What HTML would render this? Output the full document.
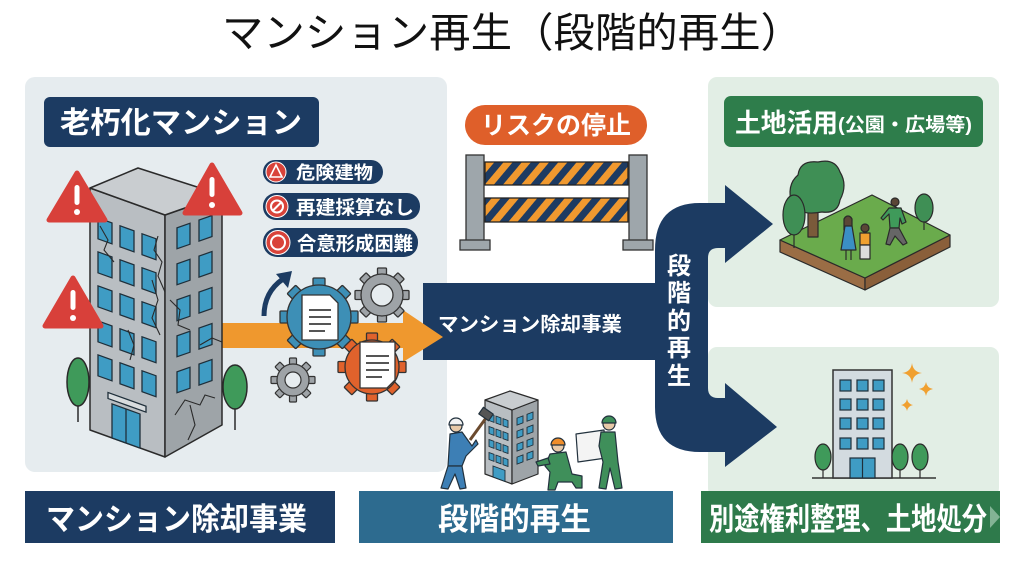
<!DOCTYPE html>
<html><head><meta charset="utf-8"><style>
html,body{margin:0;padding:0;background:#fff;}
svg{display:block;}
text{font-family:"Liberation Sans","Noto Sans CJK JP",sans-serif;}
</style></head><body>
<svg width="1024" height="576" viewBox="0 0 1024 576" xmlns="http://www.w3.org/2000/svg">
<defs>
<pattern id="st" width="14" height="14" patternUnits="userSpaceOnUse" patternTransform="rotate(40)">
<rect width="14" height="14" fill="#1d3b62"/><rect width="7" height="14" fill="#f0992f"/>
</pattern>
</defs>
<rect width="1024" height="576" fill="#ffffff"/>
<!-- Title -->
<text x="512" y="47" font-size="41" text-anchor="middle" fill="#111" textLength="580" lengthAdjust="spacingAndGlyphs">マンション再生（段階的再生）</text>

<!-- Panels -->
<rect x="25" y="77" width="422" height="395" rx="10" fill="#e6ecef"/>
<rect x="708" y="77" width="291" height="230" rx="9" fill="#e2eee5"/>
<rect x="708" y="347" width="291" height="150" rx="9" fill="#e2eee5"/>

<!-- 老朽化マンション label -->
<rect x="44" y="97" width="275" height="50" rx="6" fill="#1c3b62"/>
<text x="60" y="133" font-size="30" font-weight="700" fill="#fff" textLength="242" lengthAdjust="spacingAndGlyphs">老朽化マンション</text>

<!-- Tags -->
<rect x="263" y="160" width="120" height="24" rx="12" fill="#1c3b62"/>
<circle cx="276" cy="172" r="10" fill="#d9433a" stroke="#fff" stroke-width="1"/>
<path d="M276 165 L282 177 L270 177 Z" fill="none" stroke="#fff" stroke-width="1.6"/>
<text x="296" y="179" font-size="18" font-weight="700" fill="#fff" textLength="77" lengthAdjust="spacingAndGlyphs">危険建物</text>

<rect x="263" y="193" width="157" height="27" rx="13" fill="#1c3b62"/>
<circle cx="277" cy="206.5" r="11" fill="#d9433a" stroke="#fff" stroke-width="1"/>
<circle cx="277" cy="206.5" r="6" fill="none" stroke="#fff" stroke-width="2"/>
<line x1="272.5" y1="211" x2="281.5" y2="202" stroke="#fff" stroke-width="2"/>
<text x="296" y="214" font-size="19" font-weight="700" fill="#fff" textLength="118" lengthAdjust="spacingAndGlyphs">再建採算なし</text>

<rect x="263" y="228" width="155" height="29" rx="14" fill="#1c3b62"/>
<circle cx="278" cy="242.5" r="12" fill="#d9433a" stroke="#fff" stroke-width="1"/>
<circle cx="278" cy="242.5" r="7" fill="none" stroke="#fff" stroke-width="2"/>
<text x="297" y="250" font-size="19" font-weight="700" fill="#fff" textLength="116" lengthAdjust="spacingAndGlyphs">合意形成困難</text>

<!-- Navy main band + branching arrow -->
<rect x="423" y="283" width="240" height="77" fill="#1c3b62"/>
<path d="M655 250 Q655 203 700 203 L725 203 L725 185 L773 224 L725 263 L725 248 L718 248 Q708 248 708 258 L708 388 Q708 398 718 398 L725 398 L725 383 L777 427 L725 467 L725 452 L700 452 Q655 452 655 407 Z" fill="#1c3b62"/>
<text x="438" y="331" font-size="20" font-weight="700" fill="#fff" textLength="184" lengthAdjust="spacingAndGlyphs">マンション除却事業</text>
<g font-size="24" font-weight="700" fill="#fff" text-anchor="middle">
<text x="679" y="274">段</text>
<text x="679" y="301">階</text>
<text x="679" y="329">的</text>
<text x="679" y="356">再</text>
<text x="679" y="384">生</text>
</g>

<!-- Orange arrow -->
<polygon points="215,323 403,323 403,310 443,337 403,362 403,348 215,348" fill="#ef982e"/>

<!-- Big building -->
<g stroke="#2a2a2a" stroke-width="1.5" stroke-linejoin="round">
<polygon points="90,188 165,215 165,457 90,430" fill="#b9bec2"/>
<polygon points="165,215 222,195 222,425 165,457" fill="#9ea4a8"/>
<polygon points="138,168 222,195 165,215 90,188" fill="#c9cdd0"/>
</g>
<g transform="matrix(1,0.36,0,1,90,188)" fill="#3f9cc4" stroke="#1f2f3a" stroke-width="1.3">
<rect x="8" y="27" width="14" height="21"/><rect x="30" y="27" width="14" height="21"/><rect x="52" y="27" width="14" height="21"/>
<rect x="8" y="61" width="14" height="21"/><rect x="30" y="61" width="14" height="21"/><rect x="52" y="61" width="14" height="21"/>
<rect x="8" y="95" width="14" height="21"/><rect x="30" y="95" width="14" height="21"/><rect x="52" y="95" width="14" height="21"/>
<rect x="8" y="130" width="14" height="21"/><rect x="30" y="130" width="14" height="21"/><rect x="52" y="130" width="14" height="21"/>
<rect x="8" y="164" width="14" height="21"/><rect x="30" y="164" width="14" height="21"/><rect x="52" y="164" width="14" height="21"/>
<rect x="22" y="208" width="28" height="34"/>
<line x1="36" y1="208" x2="36" y2="242"/>
<rect x="18" y="198" width="38" height="6" fill="#d8dcde"/>
</g>
<g transform="matrix(1,-0.35,0,1,165,215)" fill="#3f9cc4" stroke="#1f2f3a" stroke-width="1.3">
<rect x="12" y="17" width="13" height="21"/><rect x="34" y="17" width="13" height="21"/>
<rect x="12" y="53" width="13" height="21"/><rect x="34" y="53" width="13" height="21"/>
<rect x="12" y="89" width="13" height="21"/><rect x="34" y="89" width="13" height="21"/>
<rect x="12" y="125" width="13" height="21"/><rect x="34" y="125" width="13" height="21"/>
<rect x="12" y="161" width="13" height="21"/><rect x="34" y="161" width="13" height="21"/>
</g>
<g fill="none" stroke="#2a2a2a" stroke-width="1.1">
<path d="M100 226 L108 240 L104 250 L114 262"/>
<path d="M158 236 L154 250 L162 262 L158 276 L165 292"/>
<path d="M152 280 L158 300 L152 318 L160 335"/>
<path d="M170 300 L180 310 L178 325 L190 330"/>
<path d="M128 330 L134 345 L130 360"/>
<path d="M175 415 L185 400 L200 405 L205 395 L215 398"/>
<path d="M190 405 L195 425 L188 440"/>
<path d="M200 345 L212 338 L222 342"/>
</g>
<!-- trees by building -->
<line x1="78" y1="395" x2="78" y2="422" stroke="#2a2a2a" stroke-width="1.5"/>
<ellipse cx="78" cy="382" rx="11" ry="24" fill="#3f9a5a" stroke="#2a2a2a" stroke-width="1.5"/>
<line x1="235" y1="395" x2="235" y2="430" stroke="#2a2a2a" stroke-width="1.5"/>
<ellipse cx="235" cy="387" rx="12" ry="22" fill="#3f9a5a" stroke="#2a2a2a" stroke-width="1.5"/>

<!-- warning triangles -->
<g fill="#d8403a" stroke="#d8403a" stroke-width="5" stroke-linejoin="round">
<polygon points="77,173 105,220 49,220"/>
<polygon points="212,165 240,213 185,213"/>
<polygon points="73,278 101,326 45,326"/>
</g>
<g fill="#fff">
<rect x="74.5" y="185" width="5" height="20" rx="2.5"/><circle cx="77" cy="212" r="3"/>
<rect x="209.5" y="177" width="5" height="20" rx="2.5"/><circle cx="212" cy="205" r="3"/>
<rect x="70.5" y="290" width="5" height="20" rx="2.5"/><circle cx="73" cy="318" r="3"/>
</g>

<!-- curved arrow -->
<path d="M264 316 Q264 292 283 279" fill="none" stroke="#1c3b62" stroke-width="5"/>
<polygon points="292,271 276,274 288,288" fill="#1c3b62"/>

<!-- Gears -->
<!-- gray top-right -->
<g stroke="#333" stroke-width="1.3">
<g fill="#9ea3a7">
<rect x="377.5" y="268" width="9" height="54" rx="1"/>
<rect x="377.5" y="268" width="9" height="54" rx="1" transform="rotate(45 382 295)"/>
<rect x="377.5" y="268" width="9" height="54" rx="1" transform="rotate(90 382 295)"/>
<rect x="377.5" y="268" width="9" height="54" rx="1" transform="rotate(135 382 295)"/>
</g>
<circle cx="382" cy="295" r="21" fill="#9ea3a7"/>
<circle cx="382" cy="295" r="11" fill="#e6ecef"/>
</g>
<!-- blue -->
<g stroke="#333" stroke-width="1.3">
<g fill="#3d8fb6">
<rect x="313" y="278" width="12" height="78" rx="1"/>
<rect x="313" y="278" width="12" height="78" rx="1" transform="rotate(45 319 317)"/>
<rect x="313" y="278" width="12" height="78" rx="1" transform="rotate(90 319 317)"/>
<rect x="313" y="278" width="12" height="78" rx="1" transform="rotate(135 319 317)"/>
</g>
<circle cx="319" cy="317" r="32" fill="#3d8fb6"/>
<circle cx="319" cy="317" r="17" fill="#e8eef0"/>
<polygon points="302,295 330,295 338,303 338,340 302,340" fill="#fff"/>
<g stroke="#555" stroke-width="2"><line x1="309" y1="310" x2="331" y2="310"/><line x1="309" y1="317" x2="331" y2="317"/><line x1="309" y1="324" x2="331" y2="324"/><line x1="309" y1="331" x2="325" y2="331"/></g>
</g>
<!-- orange -->
<g stroke="#333" stroke-width="1.3">
<g fill="#e0622c">
<rect x="366.5" y="333" width="11" height="68" rx="1"/>
<rect x="366.5" y="333" width="11" height="68" rx="1" transform="rotate(45 372 367)"/>
<rect x="366.5" y="333" width="11" height="68" rx="1" transform="rotate(90 372 367)"/>
<rect x="366.5" y="333" width="11" height="68" rx="1" transform="rotate(135 372 367)"/>
</g>
<circle cx="372" cy="367" r="27" fill="#e0622c"/>
<polygon points="360,342 395,342 395,380 387,388 360,388" fill="#fff"/>
<g stroke="#555" stroke-width="2"><line x1="366" y1="356" x2="389" y2="356"/><line x1="366" y1="363" x2="389" y2="363"/><line x1="366" y1="370" x2="389" y2="370"/><line x1="366" y1="377" x2="382" y2="377"/></g>
</g>
<!-- small gray -->
<g stroke="#333" stroke-width="1.2">
<g fill="#9ea3a7">
<rect x="289.5" y="358" width="7" height="44" rx="1"/>
<rect x="289.5" y="358" width="7" height="44" rx="1" transform="rotate(45 293 380)"/>
<rect x="289.5" y="358" width="7" height="44" rx="1" transform="rotate(90 293 380)"/>
<rect x="289.5" y="358" width="7" height="44" rx="1" transform="rotate(135 293 380)"/>
</g>
<circle cx="293" cy="380" r="16" fill="#9ea3a7"/>
<circle cx="293" cy="380" r="8" fill="#e6ecef"/>
</g>

<!-- リスクの停止 -->
<rect x="465" y="105" width="182" height="40" rx="20" fill="#df5f2a"/>
<text x="556" y="134" font-size="25" font-weight="700" fill="#fff" text-anchor="middle" textLength="150" lengthAdjust="spacingAndGlyphs">リスクの停止</text>

<!-- barrier -->
<rect x="485" y="162" width="143" height="23" fill="url(#st)" stroke="#222" stroke-width="1.3"/>
<rect x="485" y="198" width="143" height="24" fill="url(#st)" stroke="#222" stroke-width="1.3"/>
<g fill="#9ea6ab" stroke="#333" stroke-width="1.3">
<rect x="466" y="155" width="18" height="86"/>
<rect x="629" y="155" width="18" height="86"/>
<rect x="460" y="240" width="30" height="10"/>
<rect x="623" y="240" width="30" height="10"/>
</g>

<!-- center bottom: small building + workers -->
<g stroke="#2a2a2a" stroke-width="1.2" stroke-linejoin="round">
<polygon points="485,400 512,410 512,484 485,474" fill="#b9bec2"/>
<polygon points="512,410 538,400 538,474 512,484" fill="#9ea4a8"/>
<polygon points="485,400 510,391 538,400 512,410" fill="#c9cdd0"/>
</g>
<g transform="matrix(1,0.37,0,1,485,400)" fill="#3f9cc4" stroke="#1f2f3a" stroke-width="0.9">
<rect x="4" y="12" width="5" height="7"/><rect x="11" y="12" width="5" height="7"/><rect x="18" y="12" width="5" height="7"/>
<rect x="4" y="25" width="5" height="7"/><rect x="11" y="25" width="5" height="7"/><rect x="18" y="25" width="5" height="7"/>
<rect x="4" y="38" width="5" height="7"/><rect x="11" y="38" width="5" height="7"/><rect x="18" y="38" width="5" height="7"/>
<rect x="4" y="51" width="5" height="7"/><rect x="11" y="51" width="5" height="7"/><rect x="18" y="51" width="5" height="7"/>
<rect x="8" y="63" width="12" height="11"/>
</g>
<g transform="matrix(1,-0.38,0,1,512,410)" fill="#3f9cc4" stroke="#1f2f3a" stroke-width="0.9">
<rect x="5" y="10" width="6" height="7"/><rect x="15" y="10" width="6" height="7"/>
<rect x="5" y="23" width="6" height="7"/><rect x="15" y="23" width="6" height="7"/>
<rect x="5" y="36" width="6" height="7"/><rect x="15" y="36" width="6" height="7"/>
<rect x="5" y="49" width="6" height="7"/><rect x="15" y="49" width="6" height="7"/>
</g>
<!-- left worker -->
<g stroke="#22313d" stroke-width="1.2" stroke-linejoin="round">
<line x1="470" y1="440" x2="486" y2="418" stroke="#6b4a2e" stroke-width="3"/>
<rect x="480" y="410" width="12" height="8" fill="#555" transform="rotate(35 486 414)"/>
<polygon points="450,434 462,432 472,446 476,440 478,444 466,456 462,466 448,466" fill="#3d7fb5"/>
<polygon points="448,466 462,466 466,488 460,489 455,474 448,489 441,488" fill="#3d7fb5"/>
<circle cx="456" cy="426" r="6" fill="#e8c9a8"/>
<path d="M449 425 A7 7 0 0 1 463 425 Z" fill="#f2f2f2"/>
</g>
<!-- kneeling worker -->
<g stroke="#22313d" stroke-width="1.2" stroke-linejoin="round">
<polygon points="550,454 566,452 572,474 582,476 582,488 576,488 572,482 558,482 555,490 548,490 550,472 545,466" fill="#3f8f5a"/>
<polygon points="548,458 536,462 538,466 550,464" fill="#3f8f5a"/>
<circle cx="558" cy="446" r="6" fill="#e8c9a8"/>
<path d="M551 445 A7 7 0 0 1 565 445 Z" fill="#ef8d2a"/>
</g>
<!-- standing worker with board -->
<g stroke="#22313d" stroke-width="1.2" stroke-linejoin="round">
<polygon points="576,434 604,430 606,458 578,462" fill="#f4f4f4"/>
<polygon points="601,432 615,432 618,462 622,488 615,489 610,468 606,489 599,488 603,462 599,446" fill="#3f8f5a"/>
<circle cx="609" cy="424" r="6" fill="#e8c9a8"/>
<path d="M602 423 A7 7 0 0 1 616 423 Z" fill="#3f8f5a"/>
</g>

<!-- 土地活用 label -->
<rect x="724" y="96" width="259" height="51" rx="7" fill="#2e7d4b"/>
<text x="735" y="132" fill="#fff" font-weight="700"><tspan font-size="26" textLength="103" lengthAdjust="spacingAndGlyphs">土地活用</tspan><tspan font-size="19" dy="-1" textLength="134" lengthAdjust="spacingAndGlyphs">(公園・広場等)</tspan></text>

<!-- park -->
<g stroke="#2a2a2a" stroke-width="1.2" stroke-linejoin="round">
<polygon points="780,240 865,278 865,290 780,252" fill="#9a6d45"/>
<polygon points="865,278 950,235 950,247 865,290" fill="#8a5f3a"/>
<polygon points="872,195 950,235 865,278 780,240" fill="#6aab4c"/>
<rect x="808" y="205" width="10" height="32" fill="#7a5a3a"/>
<path d="M792 205 Q786 185 798 175 Q800 160 818 162 Q835 158 840 172 Q848 185 840 200 Q838 214 822 212 Q800 216 792 205 Z" fill="#3f8f55"/>
<line x1="794" y1="225" x2="794" y2="248"/>
<ellipse cx="794" cy="215" rx="11" ry="20" fill="#3f8f55"/>
<line x1="924" y1="215" x2="924" y2="230"/>
<ellipse cx="924" cy="208" rx="9" ry="14" fill="#3f8f55"/>
<!-- woman -->
<circle cx="848" cy="220" r="4" fill="#e8c9a8"/>
<path d="M844 219 Q848 213 852 219 L852 230 L844 230 Z" fill="#5a4636"/>
<polygon points="845,226 852,226 856,250 841,250" fill="#3b8fc4"/>
<line x1="846" y1="250" x2="846" y2="260"/><line x1="851" y1="250" x2="851" y2="260"/>
<!-- child -->
<circle cx="865" cy="228" r="4" fill="#5a4636"/>
<rect x="860" y="233" width="10" height="12" fill="#f0a030"/>
<rect x="860" y="245" width="10" height="14" fill="#dcdcdc"/>
<!-- man -->
<circle cx="895" cy="202" r="4" fill="#5a4636"/>
<polygon points="889,208 901,208 906,222 902,224 900,218 899,228 890,228 889,214 883,220 881,218" fill="#3f9a5a"/>
<polygon points="890,228 899,228 907,243 903,245 895,236 890,245 886,244" fill="#666"/>
</g>

<!-- new building -->
<line x1="812" y1="478" x2="936" y2="478" stroke="#333" stroke-width="1.5"/>
<rect x="833" y="370" width="59" height="108" fill="#d3dbe0" stroke="#333" stroke-width="1.5"/>
<g fill="#3f9cc4" stroke="#1f2f3a" stroke-width="1.2">
<rect x="840" y="380" width="11" height="11"/><rect x="857" y="380" width="11" height="11"/><rect x="873" y="380" width="11" height="11"/>
<rect x="840" y="399" width="11" height="11"/><rect x="857" y="399" width="11" height="11"/><rect x="873" y="399" width="11" height="11"/>
<rect x="840" y="418" width="11" height="11"/><rect x="857" y="418" width="11" height="11"/><rect x="873" y="418" width="11" height="11"/>
<rect x="840" y="438" width="11" height="11"/><rect x="857" y="438" width="11" height="11"/><rect x="873" y="438" width="11" height="11"/>
<rect x="850" y="458" width="25" height="20"/><line x1="862.5" y1="458" x2="862.5" y2="478"/>
</g>
<g stroke="#2a2a2a" stroke-width="1.2">
<line x1="823" y1="462" x2="823" y2="478"/><ellipse cx="823" cy="457" rx="8" ry="13" fill="#3f9a5a"/>
<line x1="900" y1="462" x2="900" y2="478"/><ellipse cx="900" cy="457" rx="8" ry="13" fill="#3f9a5a"/>
<line x1="920" y1="462" x2="920" y2="478"/><ellipse cx="920" cy="457" rx="8" ry="13" fill="#3f9a5a"/>
</g>
<g fill="#f0a030">
<path d="M912 363 Q913 372 922 373 Q913 374 912 383 Q911 374 902 373 Q911 372 912 363 Z"/>
<path d="M926 382 Q927 388 933 389 Q927 390 926 396 Q925 390 919 389 Q925 388 926 382 Z"/>
<path d="M907 399 Q908 404 913 405 Q908 406 907 411 Q906 406 901 405 Q906 404 907 399 Z"/>
</g>

<!-- Bottom bars -->
<rect x="25" y="491" width="310" height="52" fill="#1c3b62"/>
<text x="46" y="530" font-size="31" font-weight="700" fill="#fff" textLength="261" lengthAdjust="spacingAndGlyphs">マンション除却事業</text>
<rect x="359" y="491" width="314" height="52" fill="#2d6b8f"/>
<text x="438" y="530" font-size="31" font-weight="700" fill="#fff" textLength="153" lengthAdjust="spacingAndGlyphs">段階的再生</text>
<rect x="701" y="491" width="299" height="52" fill="#2e7a4b"/>
<text x="709" y="530" font-size="31" font-weight="700" fill="#fff" textLength="278" lengthAdjust="spacingAndGlyphs">別途権利整理、土地処分</text>
<polygon points="990,506 1000,517 990,528" fill="#a8cdb5" opacity="0.7"/>
</svg>
</body></html>
